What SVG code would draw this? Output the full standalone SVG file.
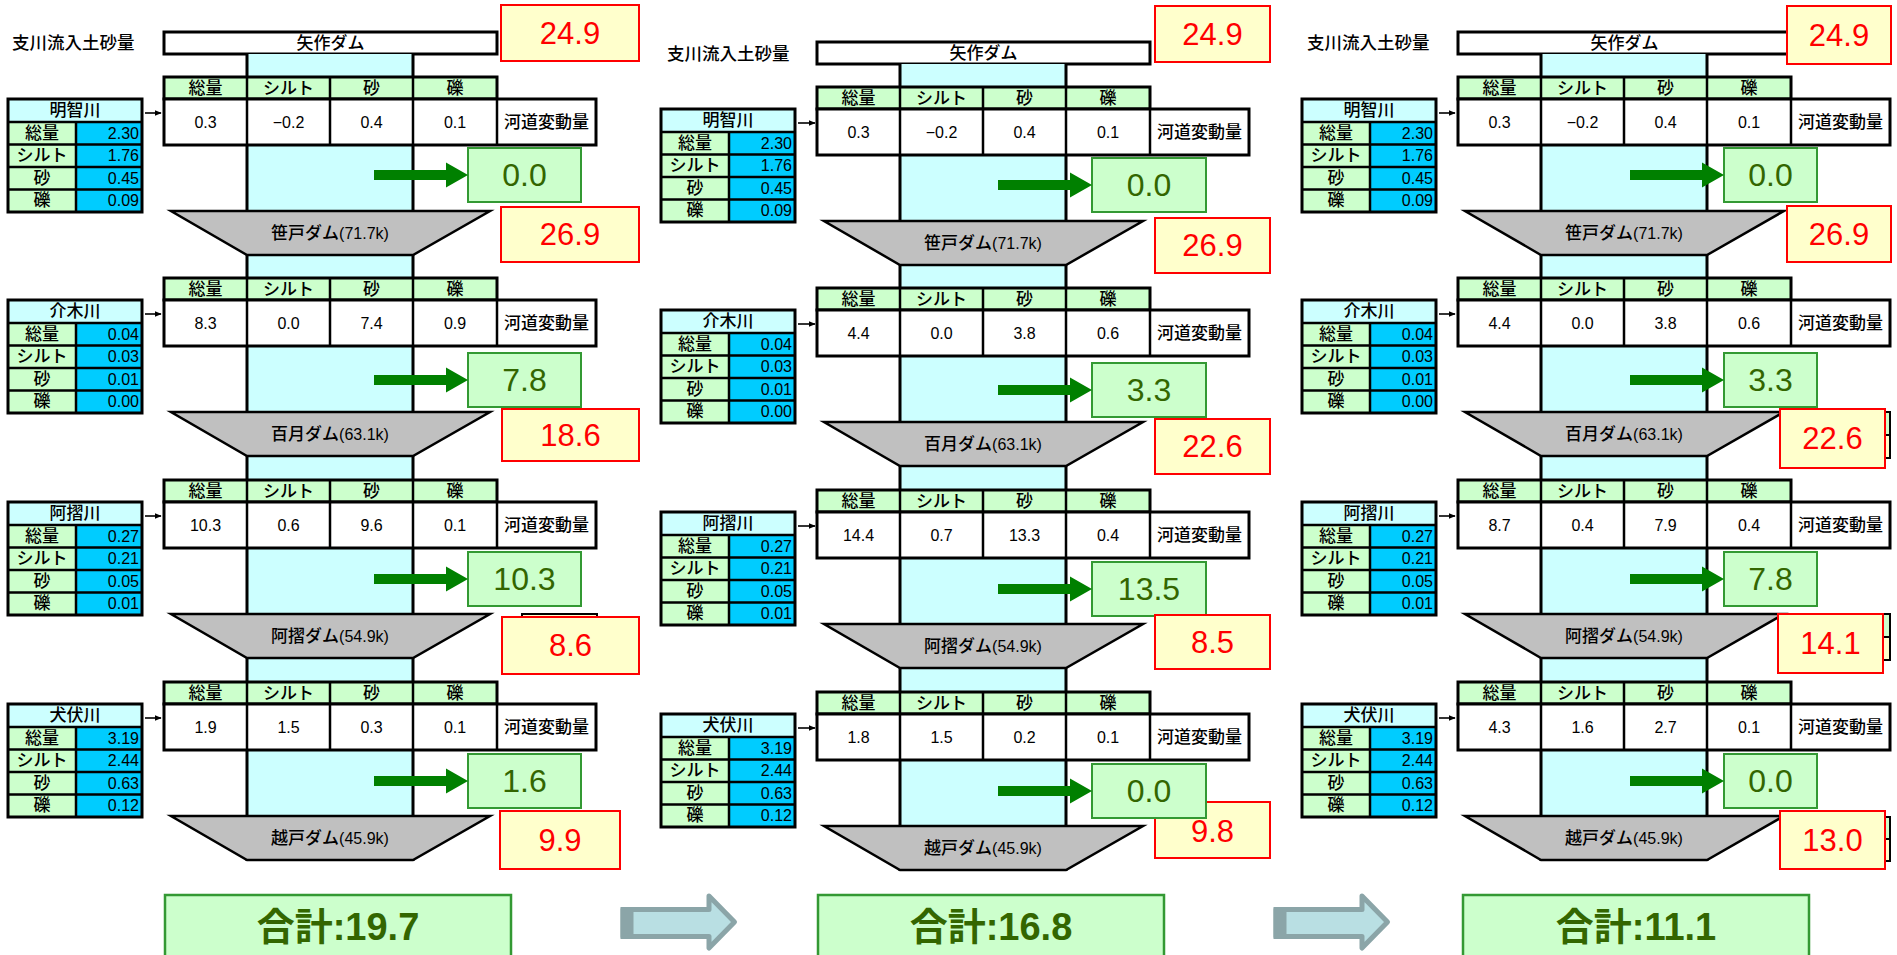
<svg xmlns="http://www.w3.org/2000/svg" width="1897" height="955" viewBox="0 0 1897 955">
<style>
text{font-family:'Liberation Sans','Noto Sans CJK JP',sans-serif;dominant-baseline:central;text-anchor:middle;fill:#000}
.lb{font-size:17px;font-weight:500}
.nm{font-size:16px}
.vr{font-size:16px;text-anchor:end}
.ttl{font-size:17.5px;font-weight:500;text-anchor:start}
.dm{font-size:17px;font-weight:500}
.dm tspan{font-size:16px;font-weight:400}
.rb{fill:#FFFFCC;stroke:#FF0000;stroke-width:2}
.rt{font-size:31px;fill:#FF0000}
.gb{fill:#CCFFCC;stroke:#339933;stroke-width:2}
.gt{font-size:32px;fill:#336600}
.sb{fill:#CCFFCC;stroke:#339933;stroke-width:2.5}
.st{font-size:38px;font-weight:bold;fill:#336600}
.col{fill:#CCFFFF}
.edge{stroke:#000;stroke-width:3;fill:none}
.box{fill:#FFFFFF;stroke:#000;stroke-width:3}
.hid{stroke:#000;stroke-width:2}
.thin{stroke:#000;stroke-width:1.6;fill:none}
</style>
<defs>
  <!-- column header row of a reach table -->
  <g id="hdr">
    <rect width="333" height="22" fill="#CCFFCC" stroke="#000" stroke-width="3"/>
    <path d="M83 0V22M166 0V22M249 0V22" stroke="#000" stroke-width="2.5"/>
    <text class="lb" x="41.5" y="11.5">総量</text>
    <text class="lb" x="124.5" y="11.5">シルト</text>
    <text class="lb" x="207.5" y="11.5">砂</text>
    <text class="lb" x="291" y="11.5">礫</text>
  </g>
  <!-- value row of a reach table -->
  <g id="row">
    <rect width="432" height="46" fill="#FFFFFF" stroke="#000" stroke-width="3"/>
    <path d="M83 0V46M166 0V46M249 0V46M333 0V46" stroke="#000" stroke-width="2.5"/>
    <text class="lb" x="382.5" y="23">河道変動量</text>
  </g>
  <!-- tributary inflow table frame -->
  <g id="trib">
    <rect width="134" height="23" fill="#CCFFFF"/>
    <rect y="23" width="68" height="90" fill="#CCFFCC"/>
    <rect x="68" y="23" width="66" height="90" fill="#00CCFF"/>
    <path d="M0 23H134M0 45.5H134M0 68H134M0 90.5H134M68 23V113" stroke="#000" stroke-width="2.5"/>
    <rect width="134" height="113" fill="none" stroke="#000" stroke-width="3"/>
    <text class="lb" x="34" y="34.25">総量</text>
    <text class="lb" x="34" y="56.75">シルト</text>
    <text class="lb" x="34" y="79.25">砂</text>
    <text class="lb" x="34" y="101.75">礫</text>
  </g>
  <!-- dam body -->
  <polygon id="dam" points="0,0 319,0 242,44 76,44" fill="#C0C0C0" stroke="#000" stroke-width="2.5"/>
  <!-- pass-through arrow -->
  <path id="garrow" d="M0 -5H72V-12.5L94 0 72 12.5V5H0Z" fill="#008000"/>
  <!-- step arrow between cases -->
  <g id="bigarrow">
    <path d="M623 909.5H709V896L734.5 922 709 948V936.5H623Z" fill="#B9DFE3" stroke="#8BA5A8" stroke-width="5" stroke-linejoin="round"/>
    <rect x="620.5" y="907" width="13" height="32" fill="#8BA5A8"/>
  </g>
  <marker id="ah" viewBox="0 0 10 10" refX="9" refY="5" markerWidth="7" markerHeight="7" markerUnits="userSpaceOnUse" orient="auto">
    <path d="M0 1L10 5 0 9Z" fill="#000"/>
  </marker>
</defs>

<!-- ===== case 1 ===== -->
<g id="panel1">
  <text class="ttl" x="12" y="43">支川流入土砂量</text>
  <g id="p1-yahagi"><rect class="box" x="164" y="32" width="333" height="22"/><text class="lb" x="330.5" y="43.5">矢作ダム</text></g>
  <g id="p1-river"><rect class="col" x="247" y="54" width="166" height="807"/><path class="edge" d="M247 54V861M413 54V861"/></g>

  <g id="p1-akechi"><use href="#trib" x="8" y="99"/><text class="lb" x="75" y="110.5">明智川</text>
    <text class="vr" x="139" y="133.25">2.30</text><text class="vr" x="139" y="155.75">1.76</text><text class="vr" x="139" y="178.25">0.45</text><text class="vr" x="139" y="200.75">0.09</text></g>
  <g id="p1-reach1"><use href="#hdr" x="164" y="77"/><use href="#row" x="164" y="99"/>
    <text class="nm" x="205.5" y="122">0.3</text><text class="nm" x="288.5" y="122">−0.2</text><text class="nm" x="371.5" y="122">0.4</text><text class="nm" x="455" y="122">0.1</text></g>
  <g id="p1-out1"><rect class="gb" x="468" y="148" width="113" height="54"/><text class="gt" x="524.5" y="175">0.0</text></g>
  <g id="p1-sasado"><use href="#dam" x="171" y="211"/><text class="dm" x="330" y="233">笹戸ダム<tspan>(71.7k)</tspan></text></g>

  <g id="p1-kenki"><use href="#trib" x="8" y="300"/><text class="lb" x="75" y="311.5">介木川</text>
    <text class="vr" x="139" y="334.25">0.04</text><text class="vr" x="139" y="356.75">0.03</text><text class="vr" x="139" y="379.25">0.01</text><text class="vr" x="139" y="401.75">0.00</text></g>
  <g id="p1-reach2"><use href="#hdr" x="164" y="278"/><use href="#row" x="164" y="300"/>
    <text class="nm" x="205.5" y="323">8.3</text><text class="nm" x="288.5" y="323">0.0</text><text class="nm" x="371.5" y="323">7.4</text><text class="nm" x="455" y="323">0.9</text></g>
  <g id="p1-out2"><rect class="gb" x="468" y="353" width="113" height="54"/><text class="gt" x="524.5" y="380">7.8</text></g>
  <g id="p1-dodo"><use href="#dam" x="171" y="412"/><text class="dm" x="330" y="434">百月ダム<tspan>(63.1k)</tspan></text></g>

  <g id="p1-azuri"><use href="#trib" x="8" y="502"/><text class="lb" x="75" y="513.5">阿摺川</text>
    <text class="vr" x="139" y="536.25">0.27</text><text class="vr" x="139" y="558.75">0.21</text><text class="vr" x="139" y="581.25">0.05</text><text class="vr" x="139" y="603.75">0.01</text></g>
  <g id="p1-reach3"><use href="#hdr" x="164" y="480"/><use href="#row" x="164" y="502"/>
    <text class="nm" x="205.5" y="525">10.3</text><text class="nm" x="288.5" y="525">0.6</text><text class="nm" x="371.5" y="525">9.6</text><text class="nm" x="455" y="525">0.1</text></g>
  <g id="p1-out3"><rect class="gb" x="468" y="552" width="113" height="54"/><text class="gt" x="524.5" y="579">10.3</text></g>
  <g id="p1-azuridam"><use href="#dam" x="171" y="614"/><text class="dm" x="330" y="636">阿摺ダム<tspan>(54.9k)</tspan></text></g>

  <g id="p1-inubushi"><use href="#trib" x="8" y="704"/><text class="lb" x="75" y="715.5">犬伏川</text>
    <text class="vr" x="139" y="738.25">3.19</text><text class="vr" x="139" y="760.75">2.44</text><text class="vr" x="139" y="783.25">0.63</text><text class="vr" x="139" y="805.75">0.12</text></g>
  <g id="p1-reach4"><use href="#hdr" x="164" y="682"/><use href="#row" x="164" y="704"/>
    <text class="nm" x="205.5" y="727">1.9</text><text class="nm" x="288.5" y="727">1.5</text><text class="nm" x="371.5" y="727">0.3</text><text class="nm" x="455" y="727">0.1</text></g>
  <g id="p1-out4"><rect class="gb" x="468" y="754" width="113" height="54"/><text class="gt" x="524.5" y="781">1.6</text></g>
  <g id="p1-koshido"><use href="#dam" x="171" y="816"/><text class="dm" x="330" y="838">越戸ダム<tspan>(45.9k)</tspan></text></g>

  <g id="p1-v0"><rect class="rb" x="501" y="5" width="138" height="56"/><text class="rt" x="570" y="33">24.9</text></g>
  <g id="p1-v1"><rect class="rb" x="501" y="207" width="138" height="55"/><text class="rt" x="570" y="234.5">26.9</text></g>
  <g id="p1-v2"><rect class="rb" x="502" y="409" width="137" height="52"/><text class="rt" x="570.5" y="435">18.6</text></g>
  <g id="p1-v3"><rect class="hid" x="522" y="614" width="75" height="40" fill="#FFFFCC"/><rect class="rb" x="502" y="617" width="137" height="57"/><text class="rt" x="570.5" y="645.5">8.6</text></g>
  <g id="p1-v4"><rect class="rb" x="500" y="811" width="120" height="58"/><text class="rt" x="560" y="840">9.9</text></g>
</g>

<!-- ===== case 2 ===== -->
<g id="panel2" transform="translate(653,10)">
  <text class="ttl" x="14" y="44">支川流入土砂量</text>
  <g id="p2-yahagi"><rect class="box" x="164" y="32" width="333" height="22"/><text class="lb" x="330.5" y="43.5">矢作ダム</text></g>
  <g id="p2-river"><rect class="col" x="247" y="54" width="166" height="807"/><path class="edge" d="M247 54V861M413 54V861"/></g>

  <g id="p2-akechi"><use href="#trib" x="8" y="99"/><text class="lb" x="75" y="110.5">明智川</text>
    <text class="vr" x="139" y="133.25">2.30</text><text class="vr" x="139" y="155.75">1.76</text><text class="vr" x="139" y="178.25">0.45</text><text class="vr" x="139" y="200.75">0.09</text></g>
  <g id="p2-reach1"><use href="#hdr" x="164" y="77"/><use href="#row" x="164" y="99"/>
    <text class="nm" x="205.5" y="122">0.3</text><text class="nm" x="288.5" y="122">−0.2</text><text class="nm" x="371.5" y="122">0.4</text><text class="nm" x="455" y="122">0.1</text></g>
  <g id="p2-out1"><rect class="gb" x="439" y="148" width="114" height="54"/><text class="gt" x="496" y="175">0.0</text></g>
  <g id="p2-sasado"><use href="#dam" x="171" y="211"/><text class="dm" x="330" y="233">笹戸ダム<tspan>(71.7k)</tspan></text></g>

  <g id="p2-kenki"><use href="#trib" x="8" y="300"/><text class="lb" x="75" y="311.5">介木川</text>
    <text class="vr" x="139" y="334.25">0.04</text><text class="vr" x="139" y="356.75">0.03</text><text class="vr" x="139" y="379.25">0.01</text><text class="vr" x="139" y="401.75">0.00</text></g>
  <g id="p2-reach2"><use href="#hdr" x="164" y="278"/><use href="#row" x="164" y="300"/>
    <text class="nm" x="205.5" y="323">4.4</text><text class="nm" x="288.5" y="323">0.0</text><text class="nm" x="371.5" y="323">3.8</text><text class="nm" x="455" y="323">0.6</text></g>
  <g id="p2-out2"><rect class="gb" x="439" y="353" width="114" height="54"/><text class="gt" x="496" y="380">3.3</text></g>
  <g id="p2-dodo"><use href="#dam" x="171" y="412"/><text class="dm" x="330" y="434">百月ダム<tspan>(63.1k)</tspan></text></g>

  <g id="p2-azuri"><use href="#trib" x="8" y="502"/><text class="lb" x="75" y="513.5">阿摺川</text>
    <text class="vr" x="139" y="536.25">0.27</text><text class="vr" x="139" y="558.75">0.21</text><text class="vr" x="139" y="581.25">0.05</text><text class="vr" x="139" y="603.75">0.01</text></g>
  <g id="p2-reach3"><use href="#hdr" x="164" y="480"/><use href="#row" x="164" y="502"/>
    <text class="nm" x="205.5" y="525">14.4</text><text class="nm" x="288.5" y="525">0.7</text><text class="nm" x="371.5" y="525">13.3</text><text class="nm" x="455" y="525">0.4</text></g>
  <g id="p2-out3"><rect class="gb" x="439" y="552" width="114" height="54"/><text class="gt" x="496" y="579">13.5</text></g>
  <g id="p2-azuridam"><use href="#dam" x="171" y="614"/><text class="dm" x="330" y="636">阿摺ダム<tspan>(54.9k)</tspan></text></g>

  <g id="p2-inubushi"><use href="#trib" x="8" y="704"/><text class="lb" x="75" y="715.5">犬伏川</text>
    <text class="vr" x="139" y="738.25">3.19</text><text class="vr" x="139" y="760.75">2.44</text><text class="vr" x="139" y="783.25">0.63</text><text class="vr" x="139" y="805.75">0.12</text></g>
  <g id="p2-reach4"><use href="#hdr" x="164" y="682"/><use href="#row" x="164" y="704"/>
    <text class="nm" x="205.5" y="727">1.8</text><text class="nm" x="288.5" y="727">1.5</text><text class="nm" x="371.5" y="727">0.2</text><text class="nm" x="455" y="727">0.1</text></g>
  <g id="p2-koshido"><use href="#dam" x="171" y="816"/><text class="dm" x="330" y="838">越戸ダム<tspan>(45.9k)</tspan></text></g>

  <g id="p2-v0"><rect class="rb" x="502" y="-4" width="115" height="56"/><text class="rt" x="559.5" y="24">24.9</text></g>
  <g id="p2-v1"><rect class="rb" x="502" y="208" width="115" height="55"/><text class="rt" x="559.5" y="235.5">26.9</text></g>
  <g id="p2-v2"><rect class="rb" x="502" y="409" width="115" height="55"/><text class="rt" x="559.5" y="436.5">22.6</text></g>
  <g id="p2-v3"><rect class="rb" x="502" y="605" width="115" height="54"/><text class="rt" x="559.5" y="632">8.5</text></g>
  <g id="p2-v4"><rect class="rb" x="502" y="792" width="115" height="56"/><text class="rt" x="559.5" y="821">9.8</text></g>
  <!-- last pass-through box sits above the 9.8 box -->
  <g id="p2-out4"><rect class="gb" x="439" y="754" width="114" height="54"/><text class="gt" x="496" y="781">0.0</text></g>
</g>

<!-- ===== case 3 ===== -->
<g id="panel3" transform="translate(1294,0)">
  <text class="ttl" x="13" y="43">支川流入土砂量</text>
  <g id="p3-yahagi"><rect class="box" x="164" y="32" width="333" height="22"/><text class="lb" x="330.5" y="43.5">矢作ダム</text></g>
  <g id="p3-river"><rect class="col" x="247" y="54" width="166" height="807"/><path class="edge" d="M247 54V861M413 54V861"/></g>

  <g id="p3-akechi"><use href="#trib" x="8" y="99"/><text class="lb" x="75" y="110.5">明智川</text>
    <text class="vr" x="139" y="133.25">2.30</text><text class="vr" x="139" y="155.75">1.76</text><text class="vr" x="139" y="178.25">0.45</text><text class="vr" x="139" y="200.75">0.09</text></g>
  <g id="p3-reach1"><use href="#hdr" x="164" y="77"/><use href="#row" x="164" y="99"/>
    <text class="nm" x="205.5" y="122">0.3</text><text class="nm" x="288.5" y="122">−0.2</text><text class="nm" x="371.5" y="122">0.4</text><text class="nm" x="455" y="122">0.1</text></g>
  <g id="p3-out1"><rect class="gb" x="430" y="148" width="93" height="54"/><text class="gt" x="476.5" y="175">0.0</text></g>
  <g id="p3-sasado"><use href="#dam" x="171" y="211"/><text class="dm" x="330" y="233">笹戸ダム<tspan>(71.7k)</tspan></text></g>

  <g id="p3-kenki"><use href="#trib" x="8" y="300"/><text class="lb" x="75" y="311.5">介木川</text>
    <text class="vr" x="139" y="334.25">0.04</text><text class="vr" x="139" y="356.75">0.03</text><text class="vr" x="139" y="379.25">0.01</text><text class="vr" x="139" y="401.75">0.00</text></g>
  <g id="p3-reach2"><use href="#hdr" x="164" y="278"/><use href="#row" x="164" y="300"/>
    <text class="nm" x="205.5" y="323">4.4</text><text class="nm" x="288.5" y="323">0.0</text><text class="nm" x="371.5" y="323">3.8</text><text class="nm" x="455" y="323">0.6</text></g>
  <g id="p3-out2"><rect class="gb" x="430" y="353" width="93" height="54"/><text class="gt" x="476.5" y="380">3.3</text></g>
  <g id="p3-dodo"><use href="#dam" x="171" y="412"/><text class="dm" x="330" y="434">百月ダム<tspan>(63.1k)</tspan></text></g>

  <g id="p3-azuri"><use href="#trib" x="8" y="502"/><text class="lb" x="75" y="513.5">阿摺川</text>
    <text class="vr" x="139" y="536.25">0.27</text><text class="vr" x="139" y="558.75">0.21</text><text class="vr" x="139" y="581.25">0.05</text><text class="vr" x="139" y="603.75">0.01</text></g>
  <g id="p3-reach3"><use href="#hdr" x="164" y="480"/><use href="#row" x="164" y="502"/>
    <text class="nm" x="205.5" y="525">8.7</text><text class="nm" x="288.5" y="525">0.4</text><text class="nm" x="371.5" y="525">7.9</text><text class="nm" x="455" y="525">0.4</text></g>
  <g id="p3-out3"><rect class="gb" x="430" y="552" width="93" height="54"/><text class="gt" x="476.5" y="579">7.8</text></g>
  <g id="p3-azuridam"><use href="#dam" x="171" y="614"/><text class="dm" x="330" y="636">阿摺ダム<tspan>(54.9k)</tspan></text></g>

  <g id="p3-inubushi"><use href="#trib" x="8" y="704"/><text class="lb" x="75" y="715.5">犬伏川</text>
    <text class="vr" x="139" y="738.25">3.19</text><text class="vr" x="139" y="760.75">2.44</text><text class="vr" x="139" y="783.25">0.63</text><text class="vr" x="139" y="805.75">0.12</text></g>
  <g id="p3-reach4"><use href="#hdr" x="164" y="682"/><use href="#row" x="164" y="704"/>
    <text class="nm" x="205.5" y="727">4.3</text><text class="nm" x="288.5" y="727">1.6</text><text class="nm" x="371.5" y="727">2.7</text><text class="nm" x="455" y="727">0.1</text></g>
  <g id="p3-out4"><rect class="gb" x="430" y="754" width="93" height="54"/><text class="gt" x="476.5" y="781">0.0</text></g>
  <g id="p3-koshido"><use href="#dam" x="171" y="816"/><text class="dm" x="330" y="838">越戸ダム<tspan>(45.9k)</tspan></text></g>

  <g id="p3-v0"><rect class="rb" x="493" y="6" width="104" height="58"/><text class="rt" x="545" y="35">24.9</text></g>
  <g id="p3-v1"><rect class="rb" x="493" y="206" width="104" height="56"/><text class="rt" x="545" y="234">26.9</text></g>
  <g id="p3-v2">
    <rect class="hid" x="506" y="412" width="90" height="23" fill="#CCFFCC"/><rect class="hid" x="506" y="435" width="90" height="23" fill="#FFFFCC"/>
    <rect class="rb" x="486" y="409" width="105" height="59"/><text class="rt" x="538.5" y="438.5">22.6</text></g>
  <g id="p3-v3">
    <rect class="hid" x="506" y="614" width="90" height="23" fill="#CCFFCC"/><rect class="hid" x="506" y="637" width="90" height="23" fill="#FFFFCC"/>
    <rect class="rb" x="484" y="614" width="105" height="59"/><text class="rt" x="536.5" y="643.5">14.1</text></g>
  <g id="p3-v4">
    <rect class="hid" x="506" y="817" width="90" height="22" fill="#CCFFCC"/><rect class="hid" x="506" y="839" width="90" height="22" fill="#FFFFCC"/>
    <rect class="rb" x="486" y="811" width="105" height="58"/><text class="rt" x="538.5" y="840">13.0</text></g>
</g>

<!-- totals -->
<g id="total1"><rect class="sb" x="165" y="895" width="346" height="70"/><text class="st" x="338" y="927">合計:19.7</text></g>
<g id="total2"><rect class="sb" x="818" y="895" width="346" height="70"/><text class="st" x="991" y="927">合計:16.8</text></g>
<g id="total3"><rect class="sb" x="1463" y="895" width="346" height="70"/><text class="st" x="1636" y="927">合計:11.1</text></g>

<!-- connectors -->
<g id="connectors">
  <g id="inflow-arrows">
    <line class="thin" x1="145" y1="113" x2="161" y2="113" marker-end="url(#ah)"/>
    <line class="thin" x1="145" y1="314" x2="161" y2="314" marker-end="url(#ah)"/>
    <line class="thin" x1="145" y1="516" x2="161" y2="516" marker-end="url(#ah)"/>
    <line class="thin" x1="145" y1="718" x2="161" y2="718" marker-end="url(#ah)"/>
    <line class="thin" x1="798" y1="123" x2="815" y2="123" marker-end="url(#ah)"/>
    <line class="thin" x1="798" y1="324" x2="815" y2="324" marker-end="url(#ah)"/>
    <line class="thin" x1="798" y1="526" x2="815" y2="526" marker-end="url(#ah)"/>
    <line class="thin" x1="798" y1="728" x2="815" y2="728" marker-end="url(#ah)"/>
    <line class="thin" x1="1439" y1="113" x2="1455" y2="113" marker-end="url(#ah)"/>
    <line class="thin" x1="1439" y1="314" x2="1455" y2="314" marker-end="url(#ah)"/>
    <line class="thin" x1="1439" y1="516" x2="1455" y2="516" marker-end="url(#ah)"/>
    <line class="thin" x1="1439" y1="718" x2="1455" y2="718" marker-end="url(#ah)"/>
  </g>
  <g id="pass-arrows">
    <use href="#garrow" transform="translate(374,175)"/>
    <use href="#garrow" transform="translate(374,380)"/>
    <use href="#garrow" transform="translate(374,579)"/>
    <use href="#garrow" transform="translate(374,781)"/>
    <use href="#garrow" transform="translate(998,185)"/>
    <use href="#garrow" transform="translate(998,390)"/>
    <use href="#garrow" transform="translate(998,589)"/>
    <use href="#garrow" transform="translate(998,791)"/>
    <use href="#garrow" transform="translate(1630,175)"/>
    <use href="#garrow" transform="translate(1630,380)"/>
    <use href="#garrow" transform="translate(1630,579)"/>
    <use href="#garrow" transform="translate(1630,781)"/>
  </g>
  <g id="step-arrows">
    <use href="#bigarrow"/>
    <use href="#bigarrow" x="653"/>
  </g>
</g>
</svg>
